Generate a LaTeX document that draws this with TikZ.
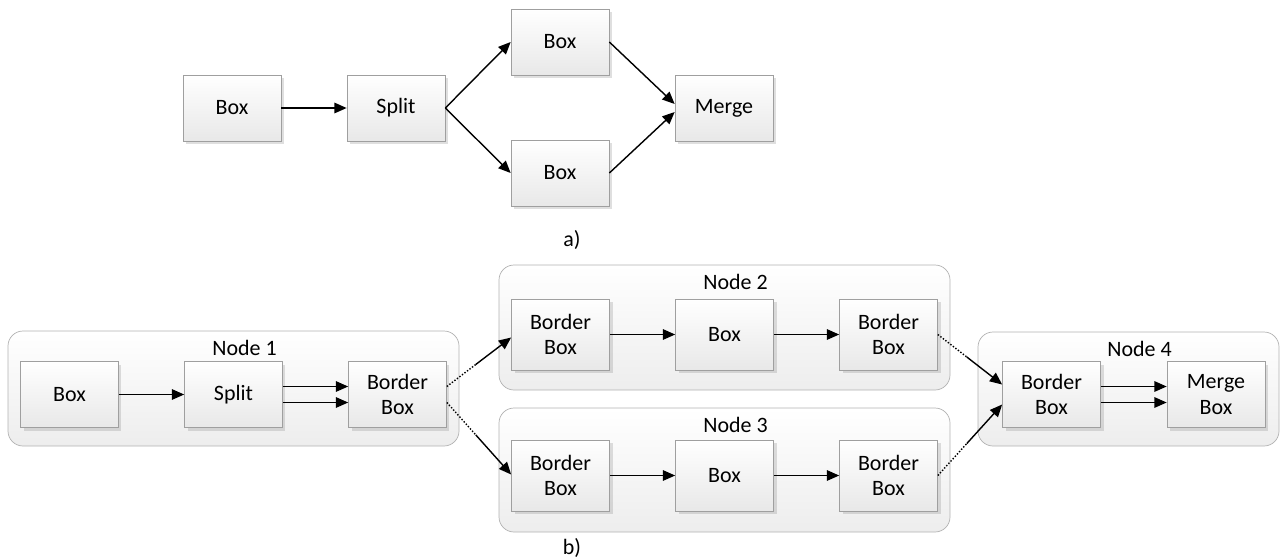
\documentclass[tikz,border=0pt]{standalone}
\usepackage{fontspec}
\setmainfont{Carlito}
\usetikzlibrary{arrows.meta,calc,shadows}

\begin{document}
\begin{tikzpicture}[x=0.02cm,y=-0.02cm,
    font=\fontsize{12.5}{14.5}\selectfont,
    box/.style={draw=gray!75, top color=white, bottom color=gray!18,
        minimum width=1.96cm, minimum height=1.32cm, inner sep=0pt, align=center,
        drop shadow={shadow xshift=0.06cm, shadow yshift=-0.06cm, opacity=0.25, fill=gray}},
    tallbox/.style={box, minimum height=1.42cm},
    group/.style={draw=gray!60, rounded corners=0.3cm, top color=white,
        bottom color=gray!14, inner sep=0pt},
    arr/.style={-{Triangle[length=7pt,width=6pt]}, line width=0.8pt},
    link/.style={densely dotted, line width=0.8pt}
]

% Frame of the picture
\useasboundingbox (0,0) rectangle (1280,558);

% a) simple split and merge
\node[box] (abox) at (232,108) {Box};
\node[box] (asplit) at (396,108) {Split};
\node[box] (atop) at (560,42) {Box};
\node[box] (abot) at (560,173) {Box};
\node[box] (amerge) at (724,108) {Merge};
\node (alabel) at (572,240) {a)};

\draw[arr] (abox) -- (asplit);
\draw[arr] (asplit.east) -- (atop.west);
\draw[arr] (asplit.east) -- (abot.west);
\draw[arr] (atop.east) -- ($(amerge.west)+(0,-4)$);
\draw[arr] (abot.east) -- ($(amerge.west)+(0,4)$);

% b) the same job spread over four nodes
% Containers: name/centre x/centre y/width/height/title
\foreach \name/\cx/\cy/\w/\h/\txt in {
    n1/233.5/388.5/451/115/Node 1,
    n2/724.5/327.5/451/125/Node 2,
    n3/724.5/470/451/124/Node 3,
    n4/1128.5/389/301/114/Node 4} {
    \node[group, minimum width=\w*0.02cm, minimum height=\h*0.02cm] (\name) at (\cx,\cy) {};
    \node (\name title) at ($(\name.north)+(11,17)$) {\txt};
}

% Node 1
\node[box] (b1box) at (69.5,394.5) {Box};
\node[box] (b1split) at (233.5,394.5) {Split};
\node[box] (b1out) at (397.5,394.5) {Border\\Box};

% Node 2 and Node 3
\foreach \row/\cy in {2/334.5, 3/475.5} {
    \node[tallbox] (b\row in) at (560.5,\cy) {Border\\Box};
    \node[tallbox] (b\row box) at (724.5,\cy) {Box};
    \node[tallbox] (b\row out) at (888.5,\cy) {Border\\Box};
    \draw[arr] (b\row in) -- (b\row box);
    \draw[arr] (b\row box) -- (b\row out);
}

% Node 4
\node[box] (b4in) at (1051.5,394.5) {Border\\Box};
\node[box] (b4merge) at (1216,394.5) {Merge\\Box};

\draw[arr] (b1box) -- (b1split);
\foreach \dy in {-8,8} {
    \draw[arr] ($(b1split.east)+(0,\dy)$) -- ($(b1out.west)+(0,\dy)$);
    \draw[arr] ($(b4in.east)+(0,\dy)$) -- ($(b4merge.west)+(0,\dy)$);
}

% Links between nodes (dotted start, solid end)
\coordinate (l1s) at ($(b1out.east)+(0,-8)$);
\coordinate (l1e) at ($(b2in.west)+(0,3)$);
\coordinate (l2s) at ($(b1out.east)+(0,8)$);
\coordinate (l2e) at ($(b3in.west)+(0,-1)$);
\coordinate (l3s) at (b2out.east);
\coordinate (l3e) at ($(b4in.west)+(0,-10)$);
\coordinate (l4s) at (b3out.east);
\coordinate (l4e) at ($(b4in.west)+(0,10)$);
\foreach \s/\e in {l1s/l1e, l2s/l2e, l3s/l3e, l4s/l4e} {
    \draw[link] (\s) -- ($(\s)!0.45!(\e)$);
    \draw[arr] ($(\s)!0.45!(\e)$) -- (\e);
}

\node (blabel) at (572,548) {b)};

\end{tikzpicture}
\end{document}
